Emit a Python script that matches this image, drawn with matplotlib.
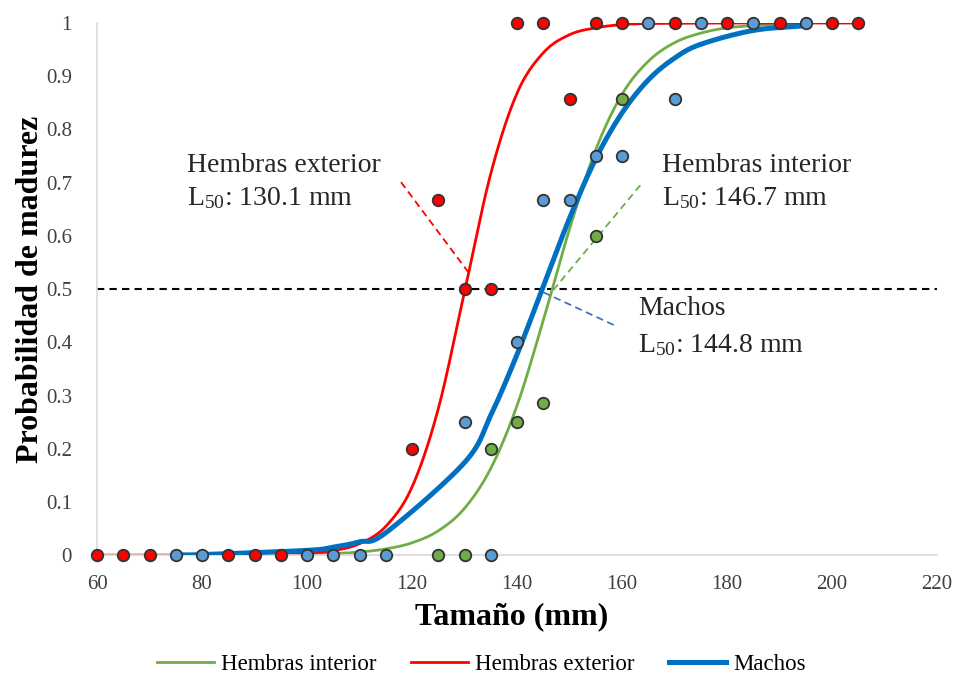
import matplotlib
matplotlib.use("Agg")
import matplotlib.pyplot as plt
import numpy as np

# observed proportions (points)
ext_x = [60, 65, 70, 85, 90, 95, 120, 125, 130, 135, 140, 145, 150, 155, 160, 170, 180, 190, 200, 205]
ext_y = [0, 0, 0, 0, 0, 0, 0.2, 0.667, 0.5, 0.5, 1, 1, 0.857, 1, 1, 1, 1, 1, 1, 1]
mac_x = [75, 80, 100, 105, 110, 115, 130, 135, 140, 145, 150, 155, 160, 165, 170, 175, 185, 195]
mac_y = [0, 0, 0, 0, 0, 0, 0.25, 0, 0.4, 0.667, 0.667, 0.75, 0.75, 1, 0.857, 1, 1, 1]
int_x = [125, 130, 135, 140, 145, 155, 160]
int_y = [0, 0, 0.2, 0.25, 0.286, 0.6, 0.857]

# fitted curves
ext_fx = [60, 65, 70, 75, 80, 85, 90, 95, 100, 105, 110, 115, 120, 125, 130, 135, 140, 145,
          150, 155, 160, 165, 170, 175, 180, 185, 190, 195, 200, 205]
ext_fy = [0.0, 0.0, 0.0, 0.0, 0.0001, 0.0002, 0.0005, 0.0013, 0.0033, 0.0084, 0.0215, 0.054,
          0.128, 0.275, 0.495, 0.717, 0.868, 0.944, 0.978, 0.991, 0.997, 0.999, 0.9995, 1, 1, 1,
          1, 1, 1, 1]
int_fx = [90, 95, 100, 105, 110, 115, 120, 125, 130, 135, 140, 145, 150, 155, 160, 165, 170,
          175, 180, 185, 190, 195]
int_fy = [0.0004, 0.0007, 0.0014, 0.0029, 0.0058, 0.0117, 0.0232, 0.0457, 0.088, 0.163, 0.281,
          0.441, 0.613, 0.762, 0.866, 0.928, 0.963, 0.981, 0.991, 0.995, 0.998, 0.999]
mac_fx = mac_x
mac_fy = [0.0007, 0.0011, 0.009, 0.015, 0.025, 0.042, 0.174, 0.263, 0.377, 0.505, 0.633, 0.745,
          0.831, 0.893, 0.934, 0.960, 0.986, 0.995]

L50 = {"Hembras exterior": 130.1, "Hembras interior": 146.7, "Machos": 144.8}

RED = "#FF0000"
GREEN = "#70AD47"
BLUE_LINE = "#0070C0"
BLUE_PT = "#5B9BD5"
SERIF = ["Liberation Serif", "DejaVu Serif"]


def smooth(x, y, n=24):
    # catmull-rom, like excel's "smoothed line"
    x = np.asarray(x, float)
    y = np.asarray(y, float)
    px = np.concatenate([[2 * x[0] - x[1]], x, [2 * x[-1] - x[-2]]])
    py = np.concatenate([[2 * y[0] - y[1]], y, [2 * y[-1] - y[-2]]])
    t = np.linspace(0, 1, n, endpoint=False)
    xs, ys = [], []
    for i in range(1, len(px) - 2):
        for p, out in ((px, xs), (py, ys)):
            p0, p1, p2, p3 = p[i - 1], p[i], p[i + 1], p[i + 2]
            out.append(0.5 * (2 * p1 + (-p0 + p2) * t + (2 * p0 - 5 * p1 + 4 * p2 - p3) * t ** 2
                              + (-p0 + 3 * p1 - 3 * p2 + p3) * t ** 3))
    xs.append([x[-1]])
    ys.append([y[-1]])
    return np.concatenate(xs), np.concatenate(ys)


plt.rcParams['font.family'] = SERIF
plt.rcParams['mathtext.fontset'] = 'custom'
plt.rcParams['mathtext.rm'] = 'Liberation Serif'
plt.rcParams['mathtext.it'] = 'Liberation Serif:italic'
plt.rcParams['mathtext.bf'] = 'Liberation Serif:bold'

fig = plt.figure(figsize=(9.57, 6.77), dpi=100)
ax = fig.add_axes([0.1014, 0.180, 0.8777, 0.786])

ax.axhline(0.5, color="black", lw=1.5, ls=(0, (3.5, 2.5)), zorder=1)

sx, sy = smooth(int_fx, int_fy)
ax.plot(sx, sy, color=GREEN, lw=2.0, label="Hembras interior", zorder=2)
sx, sy = smooth(ext_fx, ext_fy)
ax.plot(sx, sy, color=RED, lw=2.0, label="Hembras exterior", zorder=2)
sx, sy = smooth(mac_fx, mac_fy)
ax.plot(sx, sy, color=BLUE_LINE, lw=3.6, label="Machos", zorder=3)

mk = dict(marker="o", ms=8.3, mec="#333333", mew=1.3, ls="none", zorder=5, clip_on=False)
ax.plot(int_x, int_y, mfc=GREEN, **mk)
ax.plot(ext_x, ext_y, mfc=RED, **mk)
ax.plot(mac_x, mac_y, mfc=BLUE_PT, **mk)

# leader lines to the L50 points
ax.plot([117.9, 130.7], [0.701, 0.532], color=RED, lw=1.3, ls=(0, (4, 2.5)), zorder=2)
ax.plot([146.9, 163.8], [0.498, 0.699], color=GREEN, lw=1.3, ls=(0, (4, 2.5)), zorder=2)
ax.plot([145.0, 159.2], [0.494, 0.429], color="#4472C4", lw=1.3, ls=(0, (4, 2.5)), zorder=2)

tk = dict(fontsize=20, color="#262626", va="center", ha="left")
ax.text(77.1, 0.733, "Hembras exterior", **tk)
ax.text(77.1, 0.671, r"L$_{50}$: %.1f mm" % L50["Hembras exterior"], **tk)
ax.text(167.6, 0.733, "Hembras interior", **tk)
ax.text(167.6, 0.671, r"L$_{50}$: %.1f mm" % L50["Hembras interior"], **tk)
ax.text(163.0, 0.464, "Machos", **tk)
ax.text(163.0, 0.395, r"L$_{50}$: %.1f mm" % L50["Machos"], **tk)

ax.set_xlim(60, 220)
ax.set_ylim(0, 1)
ax.set_xticks(np.arange(60, 221, 20))
ax.set_yticks(np.arange(0, 1.01, 0.1))
ax.set_yticklabels(["0"] + ["%.1f" % v for v in np.arange(0.1, 0.95, 0.1)] + ["1"])
ax.tick_params(length=0, labelsize=15, labelcolor="#404040")
ax.tick_params(axis="y", pad=18)
ax.tick_params(axis="x", pad=14)
for s in ("top", "right"):
    ax.spines[s].set_visible(False)
for s in ("left", "bottom"):
    ax.spines[s].set_color("#D9D9D9")
    ax.spines[s].set_linewidth(1.2)

ax.set_xlabel("Tamaño (mm)", fontsize=23, fontweight="bold")
ax.set_ylabel("Probabilidad de madurez", fontsize=23, fontweight="bold")
ax.xaxis.set_label_coords(0.493, -0.088)
ax.yaxis.set_label_coords(-0.062, 0.5)

fig.legend(loc="center", bbox_to_anchor=(0.503, 0.019), ncol=3, frameon=False,
           fontsize=16.5, handlelength=2.5, columnspacing=1.5, handletextpad=0.3)

fig.savefig("out.png", dpi=100)
